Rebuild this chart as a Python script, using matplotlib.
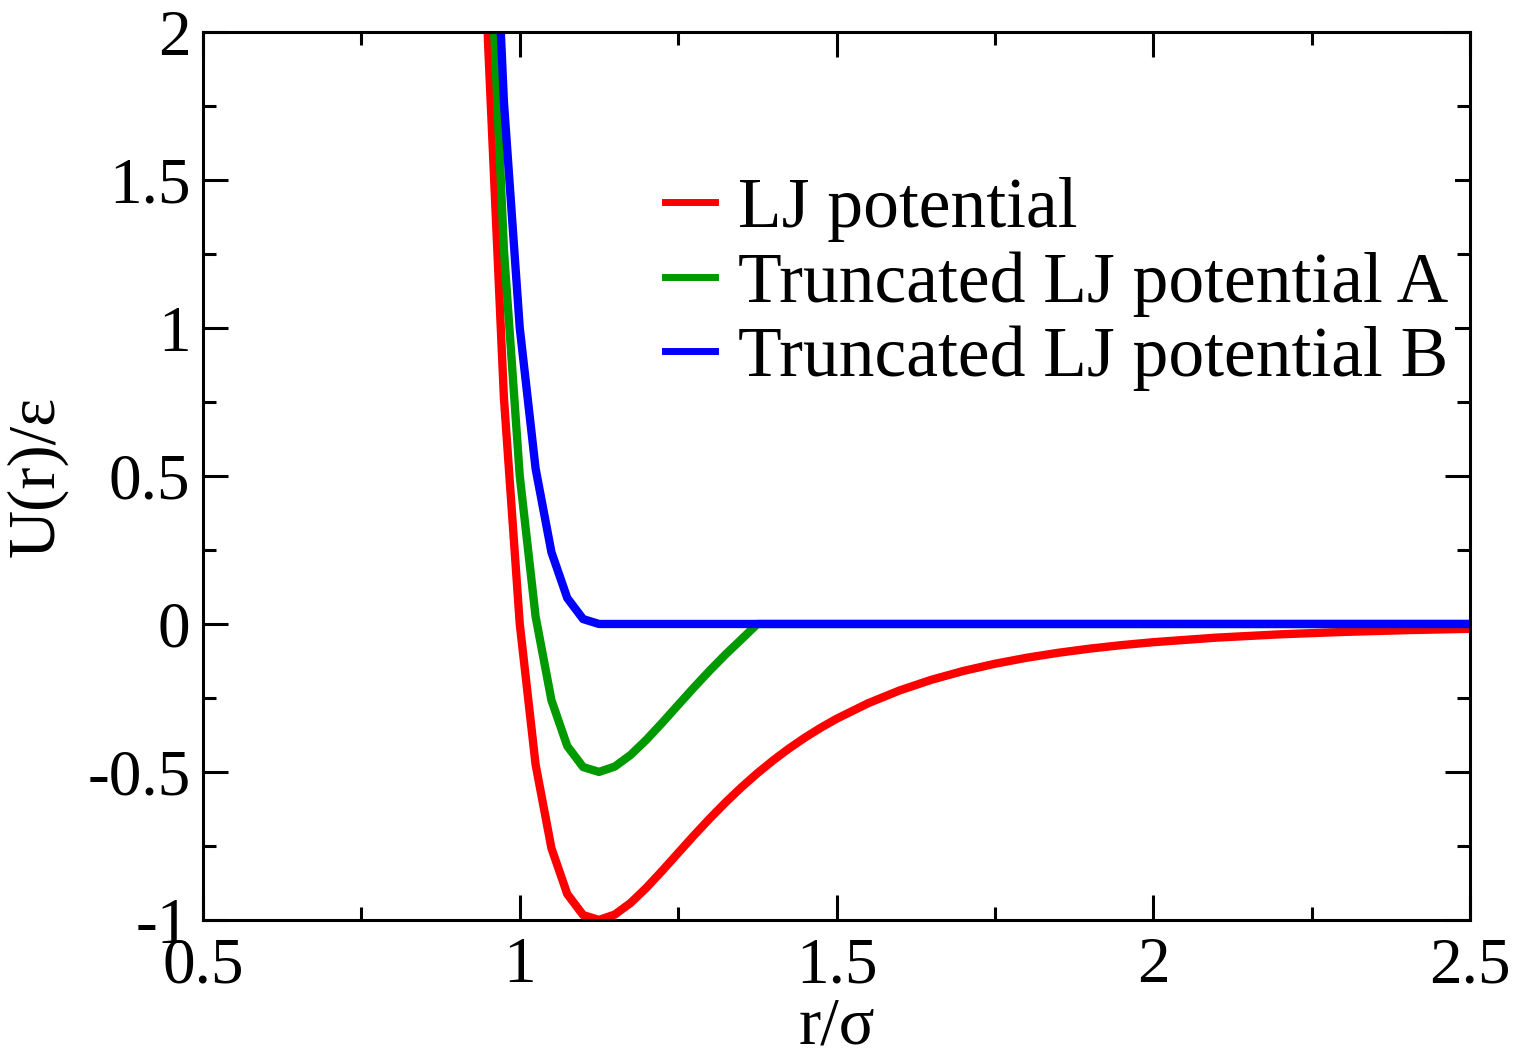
import matplotlib
matplotlib.use("Agg")
import matplotlib.pyplot as plt
from matplotlib.ticker import MultipleLocator, FuncFormatter

plt.rcParams['font.family'] = ['Liberation Serif', 'DejaVu Serif']
plt.rcParams['axes.unicode_minus'] = False

# r/sigma, muestreo del potencial
r_lj = [0.925, 0.95, 0.975, 1.0, 1.025, 1.05, 1.075, 1.1, 1.125, 1.15, 1.175,
        1.2, 1.225, 1.25, 1.275, 1.3, 1.325, 1.35, 1.375, 1.4, 1.425, 1.45,
        1.475, 1.5, 1.55, 1.6, 1.65, 1.7, 1.75, 1.8, 1.85, 1.9, 1.95, 2.0,
        2.1, 2.2, 2.3, 2.4, 2.5]
u_lj = [3.8086, 1.9610, 0.76386, 0.0, -0.47496, -0.75751, -0.91243, -0.98337,
        -0.99982, -0.98168, -0.94240, -0.89096, -0.83342, -0.77370, -0.71436,
        -0.65702, -0.60260, -0.55162, -0.50431, -0.46069, -0.42066, -0.38407,
        -0.35071, -0.32034, -0.26765, -0.22421, -0.18840, -0.15885, -0.13441,
        -0.11415, -0.09729, -0.08322, -0.07143, -0.06152, -0.04610, -0.03497,
        -0.02684, -0.02082, -0.01632]

r_a = [0.925, 0.95, 0.975, 1.0, 1.025, 1.05, 1.075, 1.1, 1.125, 1.15, 1.175,
       1.2, 1.225, 1.25, 1.275, 1.3, 1.325, 1.35, 1.375, 2.5]
u_a = [4.3086, 2.4610, 1.2639, 0.5, 0.02504, -0.25751, -0.41243, -0.48337,
       -0.49982, -0.48168, -0.44240, -0.39096, -0.33342, -0.27370, -0.21436,
       -0.15702, -0.10260, -0.05162, 0.0, 0.0]

r_b = [0.925, 0.95, 0.975, 1.0, 1.025, 1.05, 1.075, 1.1, 1.125, 2.5]
u_b = [4.8086, 2.9610, 1.7639, 1.0, 0.52504, 0.24249, 0.08757, 0.01663, 0.0, 0.0]

etiquetas = ['LJ potential', 'Truncated LJ potential A', 'Truncated LJ potential B']
colores = ['#ff0000', '#009900', '#0000ff']

fig = plt.figure(figsize=(15.24, 10.49), dpi=100)
ax = fig.add_axes([0.1332, 0.1230, 0.8314, 0.8465])

ax.plot(r_lj, u_lj, color=colores[0], lw=6, label=etiquetas[0])
ax.plot(r_a, u_a, color=colores[1], lw=6, label=etiquetas[1])
ax.plot(r_b, u_b, color=colores[2], lw=6, label=etiquetas[2])

ax.set_xlim(0.5, 2.5)
ax.set_ylim(-1, 2)

ax.xaxis.set_major_locator(MultipleLocator(0.5))
ax.xaxis.set_minor_locator(MultipleLocator(0.25))
ax.yaxis.set_major_locator(MultipleLocator(0.5))
ax.yaxis.set_minor_locator(MultipleLocator(0.25))
fmt = FuncFormatter(lambda v, p: '%g' % v)
ax.xaxis.set_major_formatter(fmt)
ax.yaxis.set_major_formatter(fmt)

ax.tick_params(which='both', direction='in', top=True, right=True, width=2.2,
               labelsize=47)
ax.tick_params(which='major', length=18)
ax.tick_params(which='minor', length=9.5)
ax.tick_params(axis='x', which='major', pad=12)
ax.tick_params(axis='y', which='major', pad=9)
for sp in ax.spines.values():
    sp.set_linewidth(2.2)

ax.set_xlabel('r/σ', fontsize=48, labelpad=0)
ax.set_ylabel('U(r)/ε', fontsize=48, labelpad=14)

# Leyenda con fondo blanco (tapa las marcas del eje derecho, como el original)
leg = ax.legend(loc='upper left', bbox_to_anchor=(0.359, 0.845), fontsize=51.5,
                frameon=True, fancybox=False, edgecolor='none', facecolor='white',
                framealpha=1, handlelength=0.7, handletextpad=0.32,
                labelspacing=0.13, borderpad=0.1, borderaxespad=0)
for ln in leg.get_lines():
    ln.set_linewidth(5)

fig.savefig('out.png', dpi=100)
